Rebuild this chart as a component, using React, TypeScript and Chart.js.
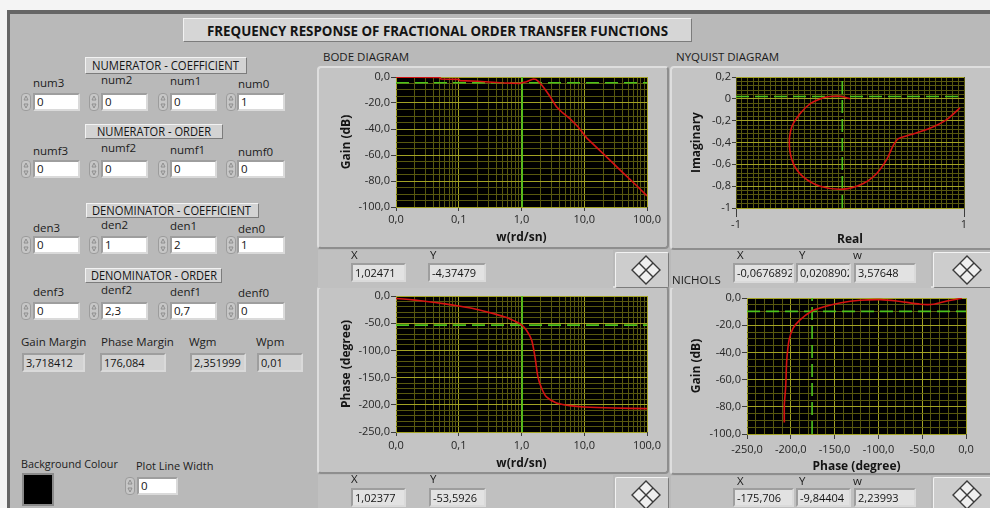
import React, { useEffect, useRef } from 'react';
import { Chart, registerables } from 'chart.js';
Chart.register(...registerables);

// ---------------- data ----------------
const bodeGainW = [0.01, 0.02, 0.05, 0.052, 0.1, 0.105, 0.2, 0.3, 0.46, 0.7, 0.95, 1.02, 1.2, 1.4, 1.55, 1.7, 1.87, 2.1, 2.4, 2.85, 3.6, 4.5, 5.9, 8, 11, 20, 40, 70, 100];
const bodeGainDb = [-0.1, -0.2, -0.4, -1.5, -1.8, -2.8, -3.3, -3.8, -4.4, -4.7, -4.9, -4.4, -3.6, -2.3, -1.6, -1.9, -3.6, -6.2, -9.8, -15, -22.8, -27.5, -32, -38.5, -47, -59, -73, -84, -91.5];

const bodePhaseW = [0.01, 0.013, 0.02, 0.031, 0.057, 0.1, 0.19, 0.36, 0.58, 0.83, 1.0, 1.2, 1.45, 1.64, 1.83, 2.1, 2.5, 3.6, 5.9, 10, 30, 100];
const bodePhaseDeg = [-4.5, -5.5, -7.5, -10, -14, -18.4, -24.4, -32.4, -39.7, -47.8, -53, -63, -81, -112, -149, -170, -185.5, -196.5, -201.5, -204, -206, -207];

const nyquistReal = [0.965, 0.848, 0.7, 0.526, 0.424, 0.38, 0.32, 0.234, 0.117, -0.059, -0.263, -0.41, -0.497, -0.532, -0.511, -0.439, -0.351, -0.234, -0.175, -0.088, -0.044, 0.0];
const nyquistImag = [-0.082, -0.19, -0.27, -0.33, -0.365, -0.426, -0.56, -0.684, -0.775, -0.827, -0.8, -0.715, -0.593, -0.426, -0.259, -0.137, -0.046, 0.009, 0.021, 0.024, 0.015, 0.0];

const nicholsPhase = [-4.6, -21.8, -37, -52, -79, -98, -121, -144, -163, -176.4, -189.8, -197.5, -202, -204.3, -205, -205.8, -207.4, -207.4];
const nicholsGainDb = [-0.2, -2.2, -4.6, -4.6, -2.2, -1.2, -1.7, -3.7, -6.6, -9.7, -16.3, -22.4, -31, -43, -50.5, -65, -78.5, -91.5];

// cursor readouts [x, y, (w)]
const bodeGainCursor = [1.02471, -4.37479];
const bodePhaseCursor = [1.02377, -53.5926];
const nyquistCursor = [-0.0676892, 0.0208902, 3.57648];
const nicholsCursor = [-175.706, -9.84404, 2.23993];

// tick labels
const freqDecades = [0.01, 0.1, 1, 10, 100];
const freqLabels = ['0,0', '0,1', '1,0', '10,0', '100,0'];
const gainTicks = [-100, -80, -60, -40, -20, 0];
const gainLabels = ['-100,0', '-80,0', '-60,0', '-40,0', '-20,0', '0,0'];
const phaseTicks = [-250, -200, -150, -100, -50, 0];
const phaseLabels = ['-250,0', '-200,0', '-150,0', '-100,0', '-50,0', '0,0'];
const realTicks = [-1, 1];
const realLabels = ['-1', '1'];
const imagTicks = [-1, -0.8, -0.6, -0.4, -0.2, 0, 0.2];
const imagLabels = ['-1', '-0,8', '-0,6', '-0,4', '-0,2', '0', '0,2'];

// front panel values
const numCoef = ['0', '0', '0', '1'];
const numOrder = ['0', '0', '0', '0'];
const denCoef = ['0', '1', '2', '1'];
const denOrder = ['0', '2,3', '0,7', '0'];
const marginLabels = ['Gain Margin', 'Phase Margin', 'Wgm', 'Wpm'];
const marginValues = ['3,718412', '176,084', '2,351999', '0,01'];

// ---------------- styling ----------------
const FONT = "'Open Sans', 'Noto Sans', 'DejaVu Sans', sans-serif";
const PANEL = '#b9b9b9';
const FRAME = '#c4c4c4';
const GRID_MAJOR = '#a2a224';
const GRID_MINOR = '#58580f';
const RED = '#d41212';
const GREEN = '#4cc41c';
const TICK_MARK = '#3c3c3c';

const fmt = (v: number) => String(v).replace('.', ',');

function subdivide(majors: number[], n: number): number[] {
  const s = [...majors].sort((a, b) => a - b);
  const out: number[] = [];
  for (let i = 0; i < s.length - 1; i++) for (let k = 0; k < n; k++) out.push(s[i] + ((s[i + 1] - s[i]) * k) / n);
  out.push(s[s.length - 1]);
  return out;
}
function logSubdivide(decades: number[]): number[] {
  const out: number[] = [];
  for (let i = 0; i < decades.length - 1; i++) for (let k = 1; k <= 9; k++) out.push(k * decades[i]);
  out.push(decades[decades.length - 1]);
  return out;
}

type AxisSpec = {
  type: 'linear' | 'logarithmic';
  majors: number[];
  labels: string[];
  values: number[];
  title: string;
  size: number;
  tickLength: number;
  tickPadding: number;
  titlePad: number;
  majorGrid?: boolean;
};

function scaleOpts(a: AxisSpec, horizontal: boolean) {
  const idx = (v: number) => a.majors.findIndex((m) => Math.abs(v - m) <= 1e-9 * Math.max(Math.abs(m), 1e-3));
  const min = Math.min(...a.majors);
  const max = Math.max(...a.majors);
  const majorGrid = a.majorGrid !== false;
  return {
    type: a.type,
    min,
    max,
    position: horizontal ? 'bottom' : 'left',
    afterBuildTicks: (s: any) => {
      s.ticks = a.values.map((v) => ({ value: v }));
    },
    afterFit: (s: any) => {
      if (horizontal) s.height = a.size;
      else s.width = a.size;
      s.paddingLeft = 0;
      s.paddingRight = 0;
      s.paddingTop = 0;
      s.paddingBottom = 0;
    },
    grid: {
      color: (c: any) => (c.tick && idx(c.tick.value) >= 0 && majorGrid ? GRID_MAJOR : GRID_MINOR),
      tickColor: (c: any) => (c.tick && idx(c.tick.value) >= 0 ? TICK_MARK : 'rgba(0,0,0,0)'),
      tickLength: a.tickLength,
      lineWidth: 1,
      drawTicks: true,
    },
    border: { display: false },
    ticks: {
      autoSkip: false,
      maxRotation: 0,
      minRotation: 0,
      padding: a.tickPadding,
      color: '#262626',
      font: { family: FONT, size: 11 },
      callback: (v: any) => {
        const i = idx(Number(v));
        return i >= 0 ? a.labels[i] : '';
      },
    },
    title: {
      display: true,
      text: a.title,
      color: '#141414',
      font: { family: FONT, size: 12, weight: 'bold' },
      padding: horizontal ? { top: 0, bottom: a.titlePad } : { top: a.titlePad, bottom: 0 },
    },
  };
}

const bgPlugin = {
  id: 'plotBg',
  beforeDraw(chart: any) {
    const { ctx, chartArea: r } = chart;
    ctx.save();
    ctx.fillStyle = '#000';
    ctx.fillRect(r.left, r.top, r.right - r.left, r.bottom - r.top);
    ctx.restore();
  },
};

const curve = (xs: number[], ys: number[], tension: number) => ({
  data: xs.map((x, i) => ({ x, y: ys[i] })),
  borderColor: RED,
  borderWidth: 1.6,
  pointRadius: 0,
  tension,
  order: 1,
});
const cursorLine = (pts: { x: number; y: number }[], dashed: boolean) => ({
  data: pts,
  borderColor: GREEN,
  borderWidth: 1.6,
  borderDash: dashed ? [13, 6] : [],
  pointRadius: 0,
  tension: 0,
  order: 2,
});

type ChartSpec = { x: AxisSpec; y: AxisSpec; padTop: number; padRight: number; datasets: any[] };

function makeConfig(s: ChartSpec): any {
  return {
    type: 'line',
    data: { datasets: s.datasets },
    options: {
      responsive: false,
      maintainAspectRatio: false,
      animation: false,
      devicePixelRatio: 1,
      events: [],
      layout: { padding: { top: s.padTop, right: s.padRight, left: 0, bottom: 0 } },
      plugins: { legend: { display: false }, tooltip: { enabled: false } },
      scales: { x: scaleOpts(s.x, true), y: scaleOpts(s.y, false) },
    },
    plugins: [bgPlugin],
  };
}

function ChartBox({ x, y, w, h, spec }: { x: number; y: number; w: number; h: number; spec: () => ChartSpec }) {
  const ref = useRef<HTMLCanvasElement>(null);
  useEffect(() => {
    const c = new Chart(ref.current as HTMLCanvasElement, makeConfig(spec()));
    return () => c.destroy();
  }, []);
  return <canvas ref={ref} width={w} height={h} style={{ position: 'absolute', left: x, top: y, width: w, height: h }} />;
}

// ---------------- chart specs ----------------
const freqAxis = (size: number, tickLength: number, tickPadding: number, titlePad: number): AxisSpec => ({
  type: 'logarithmic',
  majors: freqDecades,
  labels: freqLabels,
  values: logSubdivide(freqDecades),
  title: 'w(rd/sn)',
  size,
  tickLength,
  tickPadding,
  titlePad,
});

const bodeGainSpec = (): ChartSpec => ({
  padTop: 10,
  padRight: 21,
  x: freqAxis(41, 4, 2, 2.8),
  y: { type: 'linear', majors: gainTicks, labels: gainLabels, values: subdivide(gainTicks, 4), title: 'Gain (dB)', size: 78, tickLength: 5, tickPadding: 1, titlePad: 21 },
  datasets: [
    curve(bodeGainW, bodeGainDb, 0),
    cursorLine([{ x: freqDecades[0], y: bodeGainCursor[1] }, { x: freqDecades[4], y: bodeGainCursor[1] }], true),
    cursorLine([{ x: bodeGainCursor[0], y: gainTicks[0] }, { x: bodeGainCursor[0], y: gainTicks[5] }], false),
  ],
});

const bodePhaseSpec = (): ChartSpec => ({
  padTop: 9,
  padRight: 21,
  x: freqAxis(41, 4, 3, 2.5),
  y: { type: 'linear', majors: phaseTicks, labels: phaseLabels, values: subdivide(phaseTicks, 5), title: 'Phase (degree)', size: 78, tickLength: 5, tickPadding: 1, titlePad: 21 },
  datasets: [
    curve(bodePhaseW, bodePhaseDeg, 0.25),
    cursorLine([{ x: freqDecades[0], y: bodePhaseCursor[1] }, { x: freqDecades[4], y: bodePhaseCursor[1] }], true),
    cursorLine([{ x: bodePhaseCursor[0], y: phaseTicks[0] }, { x: bodePhaseCursor[0], y: phaseTicks[5] }], false),
  ],
});

const nyquistSpec = (): ChartSpec => ({
  padTop: 10,
  padRight: 26,
  x: { type: 'linear', majors: realTicks, labels: realLabels, values: subdivide(realTicks, 40), title: 'Real', size: 41, tickLength: 9, tickPadding: 1, titlePad: 1.8, majorGrid: false },
  y: { type: 'linear', majors: imagTicks, labels: imagLabels, values: subdivide(imagTicks, 5), title: 'Imaginary', size: 66, tickLength: 4, tickPadding: 1, titlePad: 19.5 },
  datasets: [
    curve(nyquistReal, nyquistImag, 0.3),
    cursorLine([{ x: realTicks[0], y: nyquistCursor[1] }, { x: realTicks[1], y: nyquistCursor[1] }], true),
    cursorLine([{ x: nyquistCursor[0], y: imagTicks[0] }, { x: nyquistCursor[0], y: imagTicks[6] }], true),
  ],
});

const nicholsSpec = (): ChartSpec => ({
  padTop: 11,
  padRight: 24,
  x: { type: 'linear', majors: phaseTicks, labels: phaseLabels, values: subdivide(phaseTicks, 5), title: 'Phase (degree)', size: 40, tickLength: 5, tickPadding: 4, titlePad: 0.2 },
  y: { type: 'linear', majors: gainTicks, labels: gainLabels, values: subdivide(gainTicks, 4), title: 'Gain (dB)', size: 77, tickLength: 5, tickPadding: 1, titlePad: 19.5 },
  datasets: [
    curve(nicholsPhase, nicholsGainDb, 0.25),
    cursorLine([{ x: phaseTicks[0], y: nicholsCursor[1] }, { x: phaseTicks[5], y: nicholsCursor[1] }], true),
    cursorLine([{ x: nicholsCursor[0], y: gainTicks[0] }, { x: nicholsCursor[0], y: gainTicks[5] }], true),
  ],
});

// ---------------- front panel widgets ----------------
const abs = (x: number, y: number, w: number, h: number): React.CSSProperties => ({
  position: 'absolute',
  left: x,
  top: y,
  width: w,
  height: h,
  boxSizing: 'border-box',
});

let measureCtx: CanvasRenderingContext2D | null = null;
function FitText({ x, y, w, h, text, size, weight }: { x: number; y: number; w: number; h: number; text: string; size: number; weight: number }) {
  if (!measureCtx) measureCtx = document.createElement('canvas').getContext('2d');
  let sx = 1;
  if (measureCtx) {
    measureCtx.font = `${weight} ${size}px ${FONT}`;
    const m = measureCtx.measureText(text).width;
    if (m > 0) sx = w / m;
  }
  return (
    <div
      style={{
        position: 'absolute',
        left: x,
        top: y,
        height: h,
        lineHeight: h + 'px',
        fontFamily: FONT,
        fontSize: size,
        fontWeight: weight,
        whiteSpace: 'nowrap',
        color: '#141414',
        transformOrigin: '0 50%',
        transform: `scaleX(${sx})`,
      }}
    >
      {text}
    </div>
  );
}

function Label({ x, yc, text, size = 12 }: { x: number; yc: number; text: string; size?: number }) {
  return (
    <div style={{ position: 'absolute', left: x, top: yc - 9, height: 18, lineHeight: '18px', fontFamily: FONT, fontSize: size, color: '#1c1c1c', whiteSpace: 'nowrap' }}>
      {text}
    </div>
  );
}

const raised: React.CSSProperties = {
  background: '#d3d3d3',
  borderStyle: 'solid',
  borderWidth: 1,
  borderColor: '#f2f2f2 #7c7c7c #7c7c7c #f2f2f2',
};

function Header({ x, y, w, h, text, tx, tw }: { x: number; y: number; w: number; h: number; text: string; tx: number; tw: number }) {
  return (
    <>
      <div style={{ ...abs(x, y, w, h), ...raised }} />
      <FitText x={tx} y={y} w={tw} h={h} text={text} size={12} weight={400} />
    </>
  );
}

function Spinner({ x, y, h }: { x: number; y: number; h: number }) {
  return (
    <div style={{ ...abs(x, y, 10, h), background: '#c6c6c6', border: '1px solid #9c9c9c', borderRadius: 4 }}>
      <svg width={8} height={h - 2} style={{ position: 'absolute', left: 0, top: 0 }}>
        <polygon points={`2,${(h - 2) / 2 - 2} 4,${(h - 2) / 2 - 6} 6,${(h - 2) / 2 - 2}`} fill="none" stroke="#8e8e8e" strokeWidth={1} />
        <polygon points={`2,${(h - 2) / 2 + 2} 4,${(h - 2) / 2 + 6} 6,${(h - 2) / 2 + 2}`} fill="none" stroke="#8e8e8e" strokeWidth={1} />
      </svg>
    </div>
  );
}

function ValueBox({ l, r, t, b, value, bg = '#ffffff', size = 11.5 }: { l: number; r: number; t: number; b: number; value: string; bg?: string; size?: number }) {
  return (
    <div
      style={{
        ...abs(l, t, r - l, b - t),
        background: bg,
        borderStyle: 'solid',
        borderWidth: 2,
        borderColor: '#9e9e9e #dadada #dadada #9e9e9e',
        fontFamily: FONT,
        fontSize: size,
        lineHeight: b - t - 4 + 'px',
        paddingLeft: 2,
        color: '#141414',
        overflow: 'hidden',
        whiteSpace: 'nowrap',
      }}
    >
      {value}
    </div>
  );
}

const cols = [
  { sp: 21, l: 33, r: 80, lx: 33 },
  { sp: 89, l: 101, r: 148, lx: 101 },
  { sp: 158, l: 170, r: 217, lx: 170 },
  { sp: 226, l: 237, r: 285, lx: 238 },
];

function CtrlRow({ names, values, labelY, t, b }: { names: string[]; values: string[]; labelY: number[]; t: number; b: number }) {
  return (
    <>
      {cols.map((c, i) => (
        <React.Fragment key={i}>
          <Label x={c.lx} yc={labelY[i]} text={names[i]} size={11.5} />
          <Spinner x={c.sp} y={t} h={b - t} />
          <ValueBox l={c.l} r={c.r} t={t} b={b} value={values[i]} />
        </React.Fragment>
      ))}
    </>
  );
}

function Diamond({ x, y, w, h }: { x: number; y: number; w: number; h: number }) {
  return (
    <div style={{ ...abs(x, y, w, h), ...raised, background: '#cdcdcd', borderRadius: 2 }}>
      <svg width={32} height={32} style={{ position: 'absolute', left: (w - 2 - 32) / 2 + 4, top: (h - 2 - 32) / 2 }}>
        <polygon points="16,2 30,16 16,30 2,16" fill="#efefef" stroke="#3a3a3a" strokeWidth={1.4} />
        <line x1={9} y1={9} x2={23} y2={23} stroke="#3a3a3a" strokeWidth={1.4} />
        <line x1={23} y1={9} x2={9} y2={23} stroke="#3a3a3a" strokeWidth={1.4} />
      </svg>
    </div>
  );
}

const frameStyle: React.CSSProperties = {
  background: FRAME,
  borderStyle: 'solid',
  borderWidth: 2,
  borderColor: '#dedede #8e8e8e #8e8e8e #dedede',
  borderRadius: 4,
};

export default function App() {
  return (
    <div style={{ position: 'fixed', left: 0, top: 0, width: 990, height: 508, overflow: 'hidden', background: '#f4f4f4', fontFamily: FONT }}>
      {/* panel */}
      <div style={{ ...abs(7, 10, 1000, 520), background: PANEL, borderTop: '4px solid #666', borderLeft: '3px solid #666' }} />

      {/* title */}
      <div style={{ ...abs(183, 18, 509, 24), ...raised, background: '#d6d6d6' }} />
      <FitText x={207} y={18} w={461} h={24} text="FREQUENCY RESPONSE OF FRACTIONAL ORDER TRANSFER FUNCTIONS" size={15} weight={700} />

      {/* left controls */}
      <Header x={85} y={57} w={162} h={17} text="NUMERATOR - COEFFICIENT" tx={92} tw={147} />
      <CtrlRow names={['num3', 'num2', 'num1', 'num0']} values={numCoef} labelY={[83, 80, 81, 84]} t={93} b={111} />
      <Header x={85} y={124} w={138} h={15} text="NUMERATOR - ORDER" tx={97} tw={114} />
      <CtrlRow names={['numf3', 'numf2', 'numf1', 'numf0']} values={numOrder} labelY={[151, 148, 150, 152]} t={160} b={178} />
      <Header x={86} y={203} w={173} h={15} text="DENOMINATOR - COEFFICIENT" tx={92} tw={159} />
      <CtrlRow names={['den3', 'den2', 'den1', 'den0']} values={denCoef} labelY={[228, 225, 226, 229]} t={236} b={254} />
      <Header x={85} y={268} w={137} h={15} text="DENOMINATOR - ORDER" tx={91} tw={126} />
      <CtrlRow names={['denf3', 'denf2', 'denf1', 'denf0']} values={denOrder} labelY={[292, 290, 292, 293]} t={302} b={320} />

      {[
        { lx: 21, l: 22, r: 85 },
        { lx: 101, l: 100, r: 166 },
        { lx: 189, l: 190, r: 246 },
        { lx: 256, l: 257, r: 303 },
      ].map((c, i) => (
        <React.Fragment key={i}>
          <Label x={c.lx} yc={342} text={marginLabels[i]} size={11.5} />
          <ValueBox l={c.l} r={c.r} t={353} b={372} value={marginValues[i]} bg="#d2d2d2" size={11} />
        </React.Fragment>
      ))}

      <Label x={21} yc={464} text="Background Colour" size={10.8} />
      <div style={{ ...abs(22, 473, 32, 33), background: '#000', border: '2px solid #8a8a8a' }} />
      <Label x={136} yc={466} text="Plot Line Width" size={11} />
      <Spinner x={125} y={477} h={18} />
      <ValueBox l={137} r={178} t={477} b={495} value="0" />

      {/* graph titles */}
      <Label x={323} yc={57} text="BODE DIAGRAM" size={11.5} />
      <Label x={676} yc={57} text="NYQUIST DIAGRAM" size={11.5} />

      {/* frames */}
      <div style={{ ...abs(317, 66, 352, 183), ...frameStyle }} />
      <div style={{ ...abs(317, 286, 352, 188), ...frameStyle }} />
      <div style={{ ...abs(670, 66, 330, 184), ...frameStyle }} />
      <div style={{ ...abs(670, 286, 330, 189), ...frameStyle }} />

      {/* cursor legend areas */}
      <div style={{ ...abs(318, 250, 295, 38), background: '#c0c0c0' }} />
      <div style={{ ...abs(318, 475, 295, 40), background: '#c0c0c0' }} />
      <div style={{ ...abs(671, 250, 260, 38), background: '#c0c0c0' }} />
      <div style={{ ...abs(671, 476, 260, 40), background: '#c0c0c0' }} />

      <ChartBox x={318} y={67} w={350} h={181} spec={bodeGainSpec} />
      <ChartBox x={318} y={287} w={350} h={186} spec={bodePhaseSpec} />
      <ChartBox x={670} y={67} w={320} h={182} spec={nyquistSpec} />
      <ChartBox x={670} y={287} w={320} h={187} spec={nicholsSpec} />

      {/* Bode gain cursor */}
      <Label x={351} yc={255} text="X" size={11.5} />
      <Label x={430} yc={255} text="Y" size={11.5} />
      <ValueBox l={351} r={406} t={263} b={282} value={fmt(bodeGainCursor[0])} bg="#e2e2e2" size={11} />
      <ValueBox l={428} r={486} t={263} b={282} value={fmt(bodeGainCursor[1])} bg="#e2e2e2" size={11} />
      <Diamond x={615} y={252} w={54} h={36} />

      {/* Bode phase cursor */}
      <Label x={351} yc={479} text="X" size={11.5} />
      <Label x={430} yc={479} text="Y" size={11.5} />
      <ValueBox l={351} r={406} t={488} b={507} value={fmt(bodePhaseCursor[0])} bg="#e2e2e2" size={11} />
      <ValueBox l={429} r={486} t={488} b={507} value={fmt(bodePhaseCursor[1])} bg="#e2e2e2" size={11} />
      <Diamond x={615} y={477} w={54} h={36} />

      {/* Nyquist cursor */}
      <Label x={737} yc={255} text="X" size={11.5} />
      <Label x={799} yc={255} text="Y" size={11.5} />
      <Label x={853} yc={255} text="w" size={11.5} />
      <ValueBox l={733} r={794} t={263} b={283} value={fmt(nyquistCursor[0])} bg="#e2e2e2" size={11} />
      <ValueBox l={796} r={851} t={263} b={283} value={fmt(nyquistCursor[1])} bg="#e2e2e2" size={11} />
      <ValueBox l={854} r={916} t={263} b={283} value={fmt(nyquistCursor[2])} bg="#e2e2e2" size={11} />
      <Diamond x={933} y={252} w={60} h={36} />
      <Label x={672} yc={280} text="NICHOLS" size={11.5} />

      {/* Nichols cursor */}
      <Label x={737} yc={481} text="X" size={11.5} />
      <Label x={799} yc={481} text="Y" size={11.5} />
      <Label x={853} yc={481} text="w" size={11.5} />
      <ValueBox l={733} r={794} t={488} b={507} value={fmt(nicholsCursor[0])} bg="#e2e2e2" size={11} />
      <ValueBox l={796} r={851} t={488} b={507} value={fmt(nicholsCursor[1])} bg="#e2e2e2" size={11} />
      <ValueBox l={854} r={916} t={488} b={507} value={fmt(nicholsCursor[2])} bg="#e2e2e2" size={11} />
      <Diamond x={933} y={477} w={60} h={36} />
    </div>
  );
}
